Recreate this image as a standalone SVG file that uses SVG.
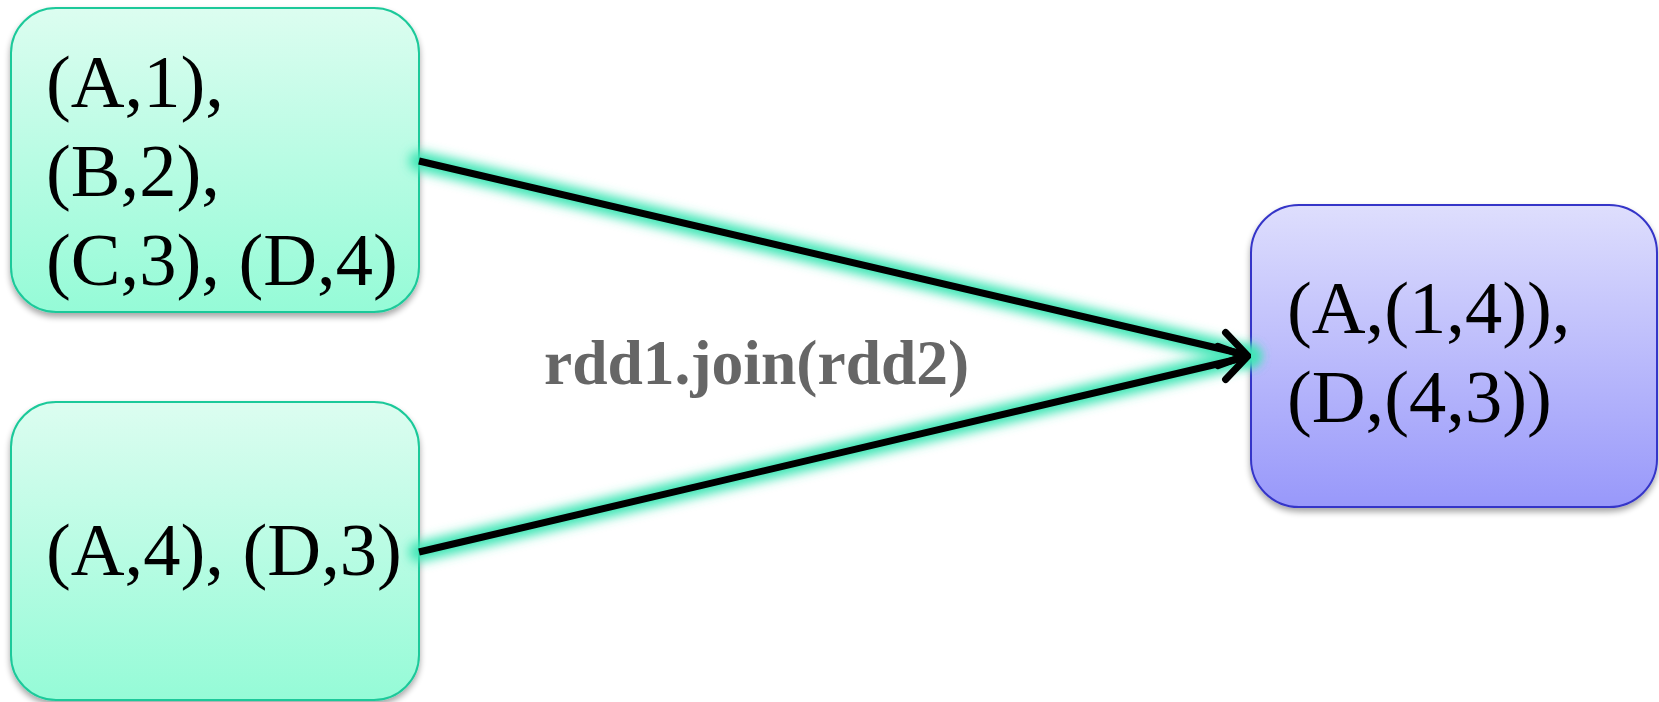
<svg xmlns="http://www.w3.org/2000/svg" width="1659" height="702" viewBox="0 0 1659 702">
  <style>
    .val { font-family: "Liberation Serif", "Times New Roman", serif; font-size: 74.5px; fill: #000; }
    .op { font-family: "Liberation Serif", "Times New Roman", serif; font-size: 63.5px; font-weight: bold; fill: #666666; }
    .rddbox { fill: url(#gGreen); stroke: #1dc99a; stroke-width: 2; filter: url(#shadow); }
    .outbox { fill: url(#gBlue); stroke: #3434c8; stroke-width: 2; filter: url(#shadow); }
    .glow { stroke: #3fe6b6; stroke-width: 20; stroke-linecap: round; fill: none; filter: url(#blur); }
    .edge { stroke: #000; stroke-width: 7; fill: none; marker-end: url(#chevron); }
  </style>
  <defs>
    <linearGradient id="gGreen" x1="0" y1="0" x2="0" y2="1">
      <stop offset="0" stop-color="#dcfdf0"/>
      <stop offset="1" stop-color="#95fbd7"/>
    </linearGradient>
    <linearGradient id="gBlue" x1="0" y1="0" x2="0" y2="1">
      <stop offset="0" stop-color="#dedefd"/>
      <stop offset="1" stop-color="#9898fa"/>
    </linearGradient>
    <filter id="shadow" x="-10%" y="-10%" width="120%" height="125%">
      <feGaussianBlur in="SourceAlpha" stdDeviation="3"/>
      <feOffset dx="0" dy="4" result="b"/>
      <feComponentTransfer><feFuncA type="linear" slope="0.35"/></feComponentTransfer>
      <feMerge><feMergeNode/><feMergeNode in="SourceGraphic"/></feMerge>
    </filter>
    <filter id="blur" x="-20%" y="-50%" width="140%" height="200%">
      <feGaussianBlur stdDeviation="5.5"/>
    </filter>
    <marker id="chevron" markerUnits="userSpaceOnUse" viewBox="-32 -22 36 44" markerWidth="36" markerHeight="44" refX="0" refY="0" orient="auto">
      <path d="M -26 -17 L 0 0 L -26 17" fill="none" stroke="#000" stroke-width="7" stroke-linecap="round" stroke-linejoin="miter"/>
    </marker>
  </defs>

  <!-- input RDD 1 -->
  <g id="rdd1">
    <rect class="rddbox" x="11" y="8" width="408" height="304" rx="45" ry="45"/>
    <text class="val" x="46" y="107">(A,1),</text>
    <text class="val" x="46" y="196">(B,2),</text>
    <text class="val" x="46" y="285">(C,3), (D,4)</text>
  </g>

  <!-- input RDD 2 -->
  <g id="rdd2">
    <rect class="rddbox" x="11" y="402" width="408" height="298" rx="45" ry="45"/>
    <text class="val" x="46" y="575">(A,4), (D,3)</text>
  </g>

  <!-- joined result -->
  <g id="joined">
    <rect class="outbox" x="1251" y="205" width="406" height="302" rx="48" ry="48"/>
    <text class="val" x="1287" y="333">(A,(1,4)),</text>
    <text class="val" x="1287" y="422">(D,(4,3))</text>
  </g>

  <!-- join edges -->
  <g id="edges">
    <line class="glow" x1="419" y1="161" x2="1250" y2="356"/>
    <line class="glow" x1="419" y1="552" x2="1250" y2="356"/>
    <line class="edge" x1="419" y1="161" x2="1247" y2="355"/>
    <line class="edge" x1="419" y1="552" x2="1247" y2="357"/>
    <text class="op" x="544" y="384">rdd1.join(rdd2)</text>
  </g>
</svg>
